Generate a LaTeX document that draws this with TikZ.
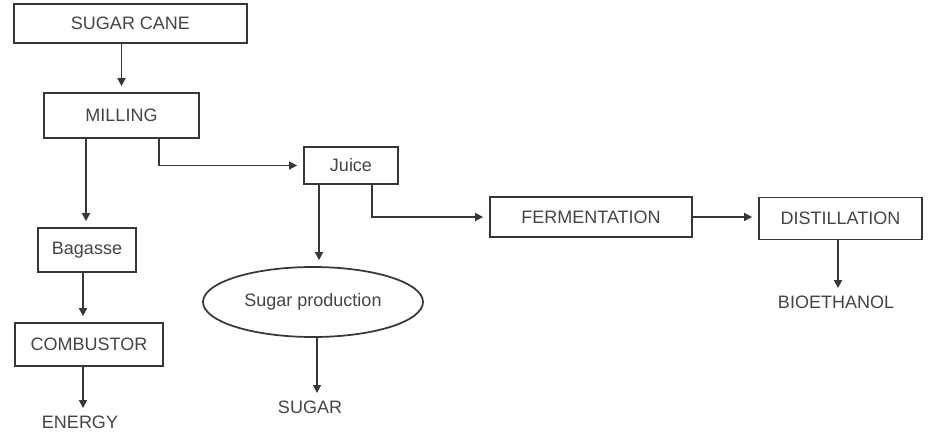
\documentclass[tikz,border=0pt]{standalone}
\usepackage{fontspec}
\setmainfont{Liberation Sans}
\usetikzlibrary{shapes.geometric, arrows.meta}
\definecolor{inkgray}{RGB}{55,55,55}
\definecolor{txtgray}{RGB}{68,68,68}

\begin{document}
\begin{tikzpicture}[x=0.75pt,y=0.75pt,yscale=-1,xscale=1,
  box/.style={draw=inkgray, line width=1.3pt, text=txtgray, inner sep=0pt, font=\fontsize{13.5}{15}\selectfont},
  plain/.style={text=txtgray, inner sep=1pt, font=\fontsize{13.5}{15}\selectfont},
  flow/.style={draw=inkgray, line width=1.2pt, -{Triangle[length=6pt,width=6pt]}, shorten >=4.5pt}]
\useasboundingbox (0,0) rectangle (939,444);

% Boxes
\node [box, minimum width=174.75pt, minimum height=29.25pt] (cane) at (130.5,23.5) {SUGAR CANE};
\node [box, minimum width=116.25pt, minimum height=33.75pt] (mill) at (121.5,115.5) {MILLING};
\node [box, minimum width=70.5pt, minimum height=27.75pt] (juice) at (351,165.5) {Juice};
\node [box, minimum width=73.5pt, minimum height=33pt] (bag) at (87,250) {Bagasse};
\node [box, minimum width=111pt, minimum height=32.25pt] (comb) at (89,344.5) {COMBUSTOR};
\node [box, minimum width=151.5pt, minimum height=30pt] (ferm) at (591,217) {FERMENTATION};
\node [box, minimum width=122.25pt, minimum height=31.5pt] (dist) at (840.5,218.5) {DISTILLATION};
% Ellipse
\node [box, ellipse, minimum width=165pt, minimum height=52.5pt] (prod) at (313,302) {Sugar production};

% Text Node
\node [plain] (energy) at (80,422) {ENERGY};
% Text Node
\node [plain] (sugar) at (310,407) {SUGAR};
% Text Node
\node [plain] (bio) at (836,302) {BIOETHANOL};

\coordinate (m1) at (86,138);
\coordinate (m2) at (159,138);
\coordinate (j1) at (319,184);
\coordinate (j2) at (372,184);

%Straight Lines
\draw [flow] (cane.south -| mill.north) -- (mill.north);
\draw [flow] (m1) -- (m1 |- bag.north);
\draw [flow] (m2) |- (juice.west);
\draw [flow] (j1) -- (j1 |- prod.north);
\draw [flow] (j2) |- (ferm.west);
\draw [flow] (ferm.east) -- (ferm.east -| dist.west);
\draw [flow] (bag.south -| 83,0) -- (comb.north -| 83,0);
\draw [flow] (comb.south -| 83,0) -- (energy.north -| 83,0);
\draw [flow] (prod.south -| 317,0) -- (sugar.north -| 317,0);
\draw [flow] (dist.south -| 838,0) -- (bio.north -| 838,0);

\end{tikzpicture}
\end{document}
